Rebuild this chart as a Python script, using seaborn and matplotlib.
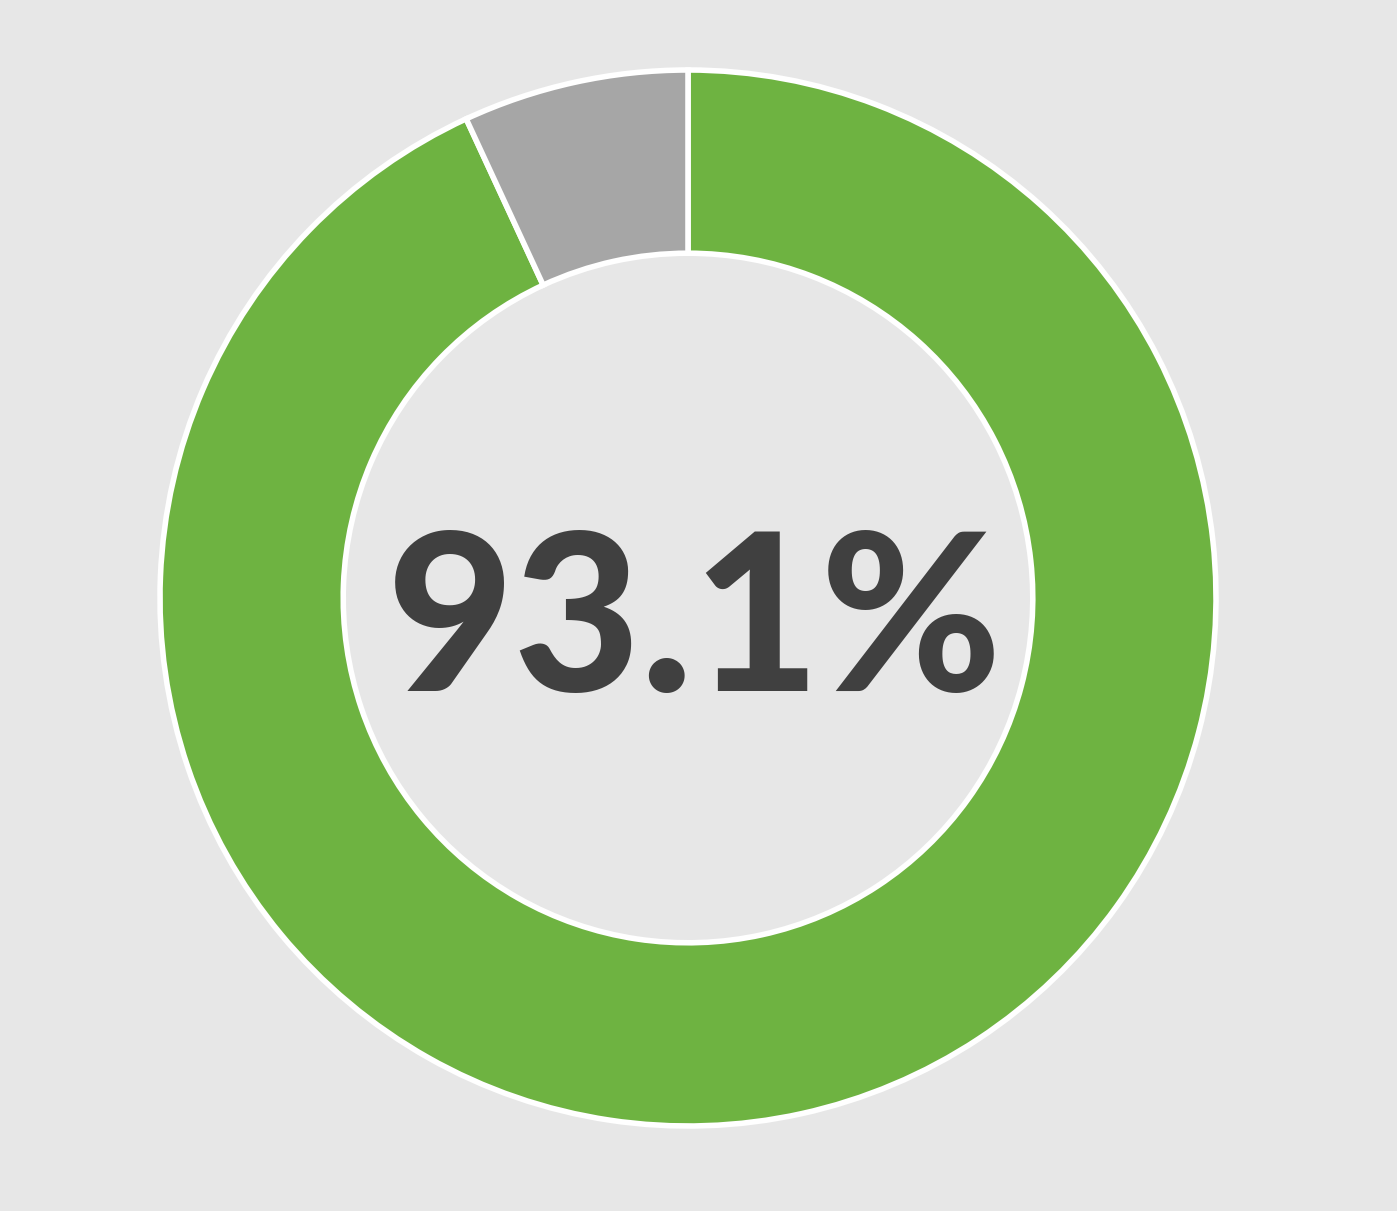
import matplotlib
matplotlib.use("Agg")
import matplotlib.pyplot as plt
import seaborn as sns

labels = ["Achieved", "Remaining"]
values = [93.1, 6.9]
colors = ["#6EB341", "#A6A6A6"]
center_label = "93.1%"

sns.set_theme(style="white")
plt.rcParams['font.family'] = ['Lato', 'DejaVu Sans']

bg = "#E7E7E7"
fig = plt.figure(figsize=(13.97, 12.11), dpi=100, facecolor=bg)
R = 528
pad = 1.05
cx, cy = 688, 1211 - 598
w = 2 * R * pad
ax = fig.add_axes([(cx - R * pad) / 1397, (cy - R * pad) / 1211, w / 1397, w / 1211])
ax.set_facecolor(bg)
ax.pie(values, colors=colors, startangle=90, counterclock=False, radius=1,
       wedgeprops=dict(width=0.347, edgecolor="white", linewidth=4))
ax.set_xlim(-pad, pad)
ax.set_ylim(-pad, pad)
ax.set_aspect("equal")
ax.axis("off")
ax.text(0.013, -0.055, center_label, ha="center", va="center", fontsize=158,
        fontweight=900, color="#404040")
fig.savefig("out.png", dpi=100, facecolor=bg)
